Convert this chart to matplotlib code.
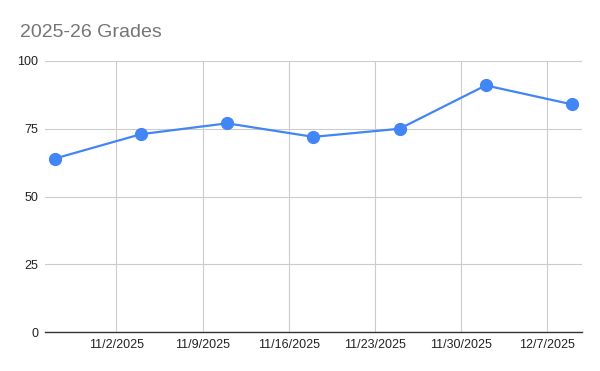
import matplotlib.pyplot as plt
import matplotlib.dates as mdates
import numpy as np
import pandas as pd

# -------------------- DATA --------------------
dates = pd.to_datetime(["2025-10-28", "2025-11-04", "2025-11-11", "2025-11-18",
                        "2025-11-25", "2025-12-02", "2025-12-09"])
grades = [64, 73, 77, 72, 75, 91, 84]
tick_dates = pd.to_datetime(["2025-11-02", "2025-11-09", "2025-11-16",
                             "2025-11-23", "2025-11-30", "2025-12-07"])
tick_labels = ["11/2/2025", "11/9/2025", "11/16/2025", "11/23/2025",
               "11/30/2025", "12/7/2025"]

plt.rcParams['font.family'] = ['Liberation Sans', 'DejaVu Sans']

# -------------------- PLOT --------------------
fig = plt.figure(figsize=(6, 3.71), dpi=100)
ax = fig.add_axes([0.075, 0.1051, 0.895, 0.7305])

ax.plot(dates, grades, color="#4285F4", linewidth=1.6, marker="o",
        markersize=8.5, zorder=3)

ax.set_ylim(0, 100)
ax.set_yticks([0, 25, 50, 75, 100])
ax.set_xlim(mdates.date2num(pd.Timestamp("2025-10-27")) + 0.2,
            mdates.date2num(pd.Timestamp("2025-12-09")) + 0.82)
ax.set_xticks(tick_dates)
ax.set_xticklabels(tick_labels)

ax.grid(True, color="#cccccc", linewidth=0.8)
ax.set_axisbelow(True)
for s in ["top", "right", "left"]:
    ax.spines[s].set_visible(False)
ax.spines["bottom"].set_color("#333333")
ax.spines["bottom"].set_linewidth(1.0)
ax.spines["bottom"].set_zorder(2)

ax.tick_params(axis="both", length=0, labelsize=9, colors="#222222")
ax.tick_params(axis="y", pad=5)
ax.tick_params(axis="x", pad=5)

fig.text(0.033, 0.913, "2025-26 Grades", fontsize=14, color="#757575",
         ha="left", va="center")

plt.savefig("out.png", dpi=100)
